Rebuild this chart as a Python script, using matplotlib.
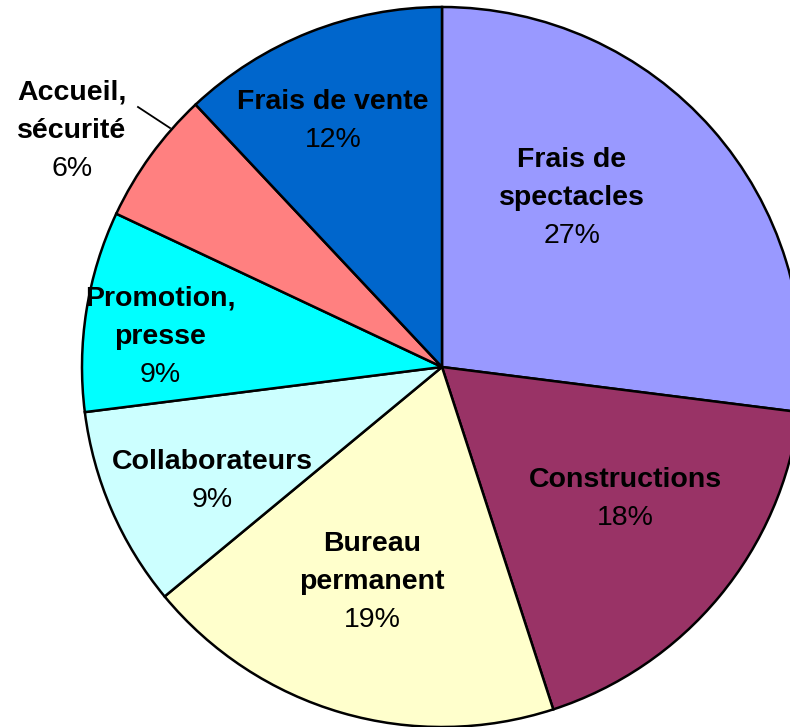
import matplotlib
matplotlib.use("Agg")
import matplotlib.pyplot as plt
import numpy as np

categories = ["Frais de\nspectacles", "Constructions", "Bureau\npermanent", "Collaborateurs",
              "Promotion,\npresse", "Accueil,\nsécurité", "Frais de vente"]
values = [27, 18, 19, 9, 9, 6, 12]
colors = ["#9999FF", "#993366", "#FFFFCC", "#CCFFFF", "#00FFFF", "#FF8080", "#0066CC"]

plt.rcParams['font.family'] = ['Liberation Sans', 'DejaVu Sans']

W, H = 790, 727
cx, cy, R = 442, 367, 360
fig = plt.figure(figsize=(W / 100, H / 100), dpi=100)
ax = fig.add_axes([0, 0, 1, 1])
wedges, _ = ax.pie(values, colors=colors, startangle=90, counterclock=False,
                   wedgeprops=dict(edgecolor="black", linewidth=1.8))
ax.set_xlim(-cx / R, (W - cx) / R)
ax.set_ylim(-(H - cy) / R, cy / R)
ax.set_aspect('auto')
ax.axis('off')

# label centres in pixels (layout only)
label_px = [(572, 198), (625, 499), (372, 582), (212, 481), (160, 337), (72, 131), (333, 121)]
total = sum(values)
lh = 38
for name, v, (px, py) in zip(categories, values, label_px):
    lines = name.split("\n") + [f"{round(100 * v / total)}%"]
    n = len(lines)
    for i, line in enumerate(lines):
        ly = py + (i - (n - 1) / 2) * lh
        bold = i < n - 1
        ax.text((px - cx) / R, (cy - ly) / R, line, ha='center', va='center',
                fontsize=20.5, fontweight='bold' if bold else 'normal')

# leader line for Accueil
ax.plot([(138 - cx) / R, (170 - cx) / R], [(cy - 107) / R, (cy - 128) / R],
        color='black', lw=1.3)

fig.savefig("out.png", dpi=100)
